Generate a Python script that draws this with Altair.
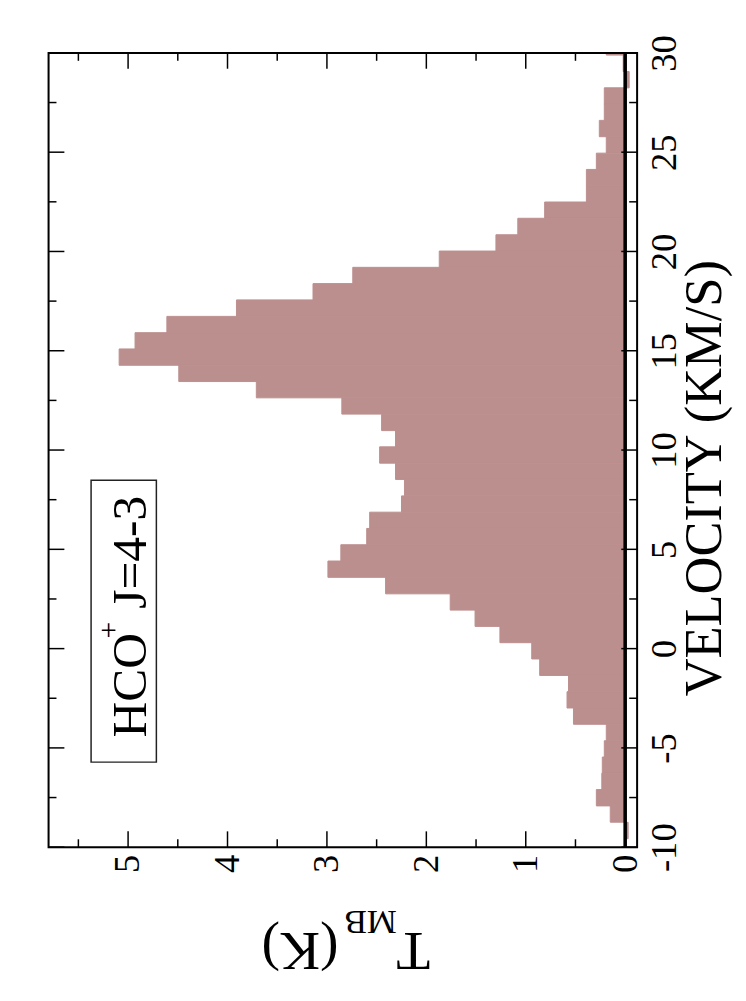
import altair as alt
import pandas as pd

# ---- data (channel centres in km/s, T_MB in K) ----
velocity = [30.30, 29.47, 28.65, 27.83, 27.01, 26.19, 25.37, 24.54, 23.72, 22.90,
            22.08, 21.26, 20.43, 19.61, 18.79, 17.97, 17.15, 16.32, 15.50, 14.68,
            13.86, 13.04, 12.22, 11.39, 10.57, 9.75, 8.93, 8.11, 7.28, 6.46,
            5.64, 4.82, 4.00, 3.17, 2.35, 1.53, 0.71, -0.11, -0.94, -1.76,
            -2.58, -3.40, -4.22, -5.05, -5.87, -6.69, -7.51, -8.33, -9.16, -9.98]
tmb = [0.19, 0.02, -0.04, 0.21, 0.21, 0.26, 0.19, 0.29, 0.39, 0.39,
       0.81, 1.08, 1.30, 1.87, 2.74, 3.14, 3.91, 4.61, 4.93, 5.09,
       4.49, 3.71, 2.85, 2.45, 2.31, 2.47, 2.31, 2.22, 2.25, 2.57,
       2.60, 2.86, 2.99, 2.41, 1.76, 1.51, 1.26, 0.94, 0.86, 0.57,
       0.585, 0.52, 0.19, 0.21, 0.23, 0.235, 0.29, 0.15, -0.03, 0.0]
channel_width = 0.822

t_major = [0, 1, 2, 3, 4, 5]
t_minor = [0.5, 1.5, 2.5, 3.5, 4.5, 5.5]
v_major = [-10, -5, 0, 5, 10, 15, 20, 25, 30]
v_minor = [-7.5, -2.5, 2.5, 7.5, 12.5, 17.5, 22.5, 27.5]

label_text = ["HCO", "+", "J=4-3"]
t_title = ["T", "MB", "(K)"]
v_title = ["VELOCITY (KM/S)"]

W, H = 595, 803
FONT = "Liberation Serif"
FILL = "#BC8F8F"

half = channel_width / 2
spec = pd.DataFrame({
    "v": velocity,
    "t": tmb,
    "vlo": [v - half for v in velocity],
    "vhi": [v + half for v in velocity],
    "base": [0.0] * len(velocity),
})

xscale = alt.Scale(domain=[-0.12, 5.8], reverse=True, nice=False, zero=False)
yscale = alt.Scale(domain=[-10, 30], nice=False, zero=False)

xaxis = alt.Axis(values=t_major, labelAngle=270, labelAlign="right", labelBaseline="middle",
                 labelPadding=7, ticks=False, tickSize=0, domain=False, grid=False,
                 labelFont=FONT, labelFontSize=37, labelColor="black", title=None,
                 labelFlush=False, labelOverlap=False, labelExpr="'' + datum.value")
yaxis = alt.Axis(values=v_major, orient="right", labelAngle=270, labelAlign="center",
                 labelBaseline="top", labelPadding=10, ticks=False, tickSize=0, domain=False,
                 grid=False, labelFont=FONT, labelFontSize=37, labelColor="black", title=None,
                 labelFlush=False, labelOverlap=False, labelExpr="'' + datum.value")

bars = alt.Chart(spec).mark_rect(clip=True, color=FILL, stroke=FILL, strokeWidth=1).encode(
    x=alt.X("t:Q", scale=xscale, axis=xaxis),
    x2="base:Q",
    y=alt.Y("vlo:Q", scale=yscale, axis=yaxis),
    y2="vhi:Q",
)

zero_line = alt.Chart(pd.DataFrame({"z": [0.0]})).mark_rule(color="black", strokeWidth=3.6).encode(
    x=alt.X("z:Q", scale=xscale)
)


def xticks(vals, length):
    d = pd.DataFrame({"p": vals})
    bottom = alt.Chart(d).mark_rule(color="black", strokeWidth=1.5).encode(
        x=alt.X("p:Q", scale=xscale), y=alt.value(H), y2=alt.value(H - length))
    top = alt.Chart(d).mark_rule(color="black", strokeWidth=1.5).encode(
        x=alt.X("p:Q", scale=xscale), y=alt.value(0), y2=alt.value(length))
    return [bottom, top]


def yticks(vals, length):
    d = pd.DataFrame({"p": vals})
    left = alt.Chart(d).mark_rule(color="black", strokeWidth=1.5).encode(
        y=alt.Y("p:Q", scale=yscale), x=alt.value(0), x2=alt.value(length))
    right = alt.Chart(d).mark_rule(color="black", strokeWidth=1.5).encode(
        y=alt.Y("p:Q", scale=yscale), x=alt.value(W), x2=alt.value(W - length))
    return [left, right]


def txt(s, x, y, size, angle, align="left", baseline="alphabetic"):
    return alt.Chart(pd.DataFrame({"s": [s]})).mark_text(
        font=FONT, fontSize=size, angle=angle, align=align, baseline=baseline, color="black"
    ).encode(text="s:N", x=alt.value(x), y=alt.value(y))


frame = alt.Chart(pd.DataFrame({"f": [1]})).mark_rect(
    fill="white", fillOpacity=0, stroke="black", strokeWidth=2
).encode(x=alt.value(0), x2=alt.value(W), y=alt.value(0), y2=alt.value(H))

box = alt.Chart(pd.DataFrame({"b": [1]})).mark_rect(
    fill="white", fillOpacity=0, stroke="#222222", strokeWidth=1.5
).encode(x=alt.value(43), x2=alt.value(109), y=alt.value(432), y2=alt.value(717))

texts = [
    # boxed label (rotated)
    txt(label_text[0], 99, 692, 50, 270),
    txt(label_text[1], 70, 592, 30, 270),
    txt(label_text[2], 99, 562, 50, 270),
    # T_MB (K) title, upside down
    txt(t_title[0], 386, 890, 56, 180),
    txt(t_title[1], 352, 868, 34, 180),
    txt(t_title[2], 293, 890, 56, 180),
    # velocity title
    txt(v_title[0], 680, 430, 53, 270, align="center"),
]

layers = [bars, zero_line] + xticks(t_major, 16) + xticks(t_minor, 8) \
    + yticks(v_major, 16) + yticks(v_minor, 8) + [frame, box] + texts

chart = alt.layer(*layers).properties(
    width=W, height=H,
    autosize=alt.AutoSizeParams(type="none"),
    padding={"left": 41, "top": 40, "right": 102, "bottom": 140},
).configure_view(stroke="transparent").configure(background="white")

chart.save("out.html", embed_options={"renderer": "svg", "actions": False})
